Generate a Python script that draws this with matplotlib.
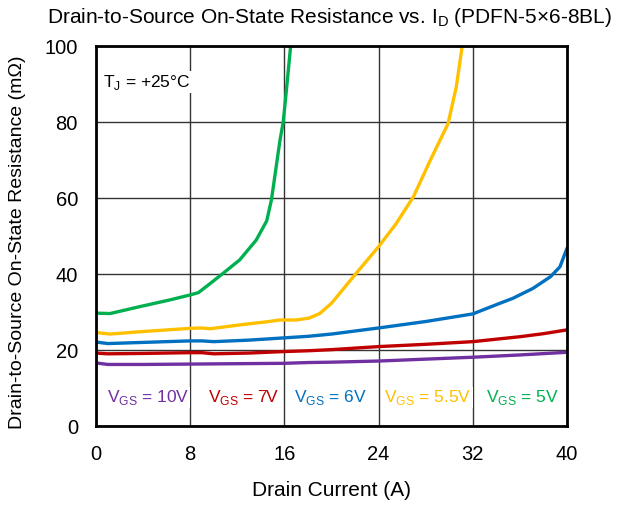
import matplotlib.pyplot as plt

plt.rcParams['font.family'] = ['Liberation Sans', 'DejaVu Sans']
plt.rcParams['mathtext.fontset'] = 'custom'
plt.rcParams['mathtext.rm'] = 'Liberation Sans'

# drain current (A) and on-state resistance (mOhm)
x_10v = [0, 1, 4, 8, 12, 16, 18, 20, 24, 28, 32, 36, 40]
r_10v = [16.6, 16.2, 16.2, 16.3, 16.4, 16.5, 16.7, 16.8, 17.1, 17.6, 18.1, 18.7, 19.4]

x_7v = [0, 1, 4, 8, 9, 10, 13, 16, 18, 20, 24, 28, 32, 36, 38, 40]
r_7v = [19.2, 19.0, 19.1, 19.3, 19.3, 19.0, 19.2, 19.6, 19.8, 20.1, 20.9, 21.5, 22.2, 23.5, 24.3, 25.3]

x_6v = [0, 1, 4, 8, 9, 10, 13, 16, 18, 20, 24, 28, 32, 34.3, 35.4, 37.1, 38.6, 39.4, 40]
r_6v = [22.1, 21.7, 22.0, 22.4, 22.4, 22.2, 22.6, 23.2, 23.6, 24.2, 25.8, 27.5, 29.5, 32.3, 33.6, 36.2, 39.3, 41.9, 46.8]

x_55v = [0, 1.2, 3.7, 8, 8.9, 9.7, 12.2, 14.7, 15.6, 17.0, 18.1, 19.0, 20.0, 22.1, 24.0, 25.5, 26.95,
         28.4, 29.9, 30.6, 31.1]
r_55v = [24.6, 24.2, 24.8, 25.7, 25.8, 25.6, 26.6, 27.5, 27.9, 27.9, 28.4, 29.6, 32.3, 40.2, 47.2, 53.3, 60.3,
         70.0, 79.6, 89.3, 100.0]

x_5v = [0, 1.2, 3.7, 6.3, 8, 8.7, 9.7, 10.8, 12.2, 13.6, 14.5, 14.9, 15.2, 15.63, 15.9, 16.2, 16.53]
r_5v = [29.7, 29.6, 31.4, 33.2, 34.5, 35.1, 37.5, 40.2, 43.7, 48.9, 54.0, 59.5, 66.0, 75.3, 80.0, 89.3, 100.0]

series = [
    (x_10v, r_10v, '#7030A0', '10V'),
    (x_7v, r_7v, '#C00000', '7V'),
    (x_6v, r_6v, '#0070C0', '6V'),
    (x_55v, r_55v, '#FFC000', '5.5V'),
    (x_5v, r_5v, '#00B050', '5V'),
]
label_x = [0.9, 9.5, 16.8, 24.5, 33.1]

fig = plt.figure(figsize=(6.22, 5.08), dpi=100)
ax = fig.add_axes([0.1543, 0.1614, 0.7573, 0.748])

for (xs, ys, c, v), lx in zip(series, label_x):
    ax.plot(xs, ys, color=c, lw=2.4, solid_capstyle='round', solid_joinstyle='round', zorder=3)
    ax.text(lx, 7.5, r'V$_{\mathregular{GS}}$ = ' + v, color=c, fontsize=12.5,
            va='center', ha='left', zorder=4,
            bbox=dict(facecolor='white', edgecolor='none', pad=1))

ax.text(0.6, 90.5, r'T$_{\mathregular{J}}$ = +25°C', fontsize=12.5, va='center', ha='left',
        zorder=4, bbox=dict(facecolor='white', edgecolor='none', pad=1))

ax.set_xlim(0, 40)
ax.set_ylim(0, 100)
ax.set_xticks([0, 8, 16, 24, 32, 40])
ax.set_yticks([0, 20, 40, 60, 80, 100])
ax.grid(True, color='#333333', lw=1, zorder=1)
ax.set_axisbelow(True)
ax.tick_params(length=0, labelsize=14.5)
ax.tick_params(axis='x', pad=13.5)
ax.tick_params(axis='y', pad=13)
for s in ax.spines.values():
    s.set_linewidth(2)
    s.set_zorder(5)

ax.set_xlabel('Drain Current (A)', fontsize=15, va='center')
ax.xaxis.set_label_coords(0.5, -0.171)
ax.set_ylabel('Drain-to-Source On-State Resistance (m\u03a9)', fontsize=14, va='center')
ax.yaxis.set_label_coords(-0.166, 0.483)
fig.text(0.53, 0.966, r'Drain-to-Source On-State Resistance vs. I$_{\mathregular{D}}$ (PDFN-5×6-8BL)',
         fontsize=15, ha='center', va='center')

fig.savefig('out.png', dpi=100)
